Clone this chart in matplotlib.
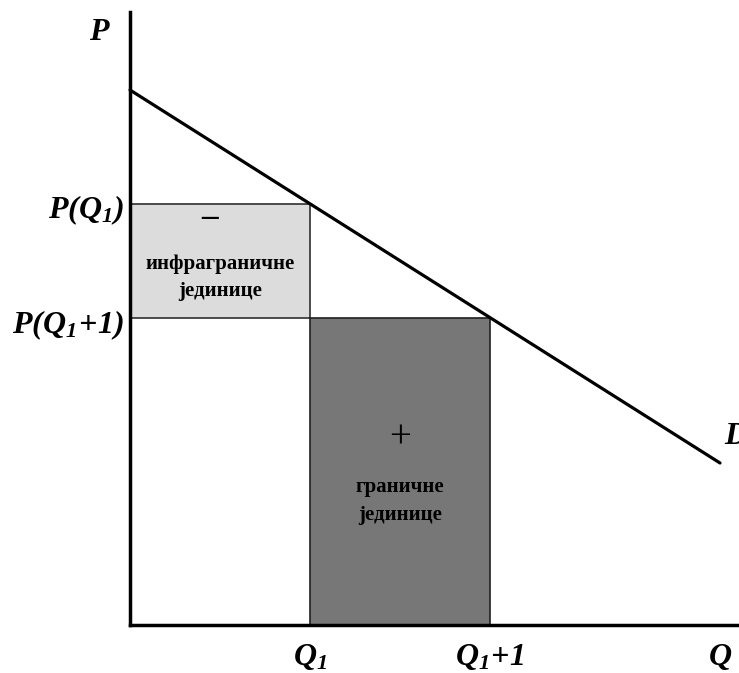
import numpy as np
import matplotlib.pyplot as plt
from matplotlib.patches import Rectangle

plt.rcParams['mathtext.fontset'] = 'custom'
for k in ['rm', 'it', 'bf']:
    plt.rcParams['mathtext.' + k] = 'Liberation Serif:bold:italic'

# demand curve (quantity, price)
demand_q = [0, 590]
demand_p = [535, 162]
q1 = 180
q2 = 360

slope = (demand_p[1] - demand_p[0]) / (demand_q[1] - demand_q[0])
p1 = demand_p[0] + slope * q1
p2 = demand_p[0] + slope * q2

fig = plt.figure(figsize=(7.39, 6.73), dpi=100)
ax = fig.add_axes([0, 0, 1, 1])
ax.set_xlim(-130, 609)
ax.set_ylim(-48, 625)
ax.axis('off')

# boxes
ax.add_patch(Rectangle((0, p2), q1, p1 - p2, facecolor='#dcdcdc',
                       edgecolor='#303030', lw=1.2, zorder=1))
ax.add_patch(Rectangle((q1, 0), q2 - q1, p2, facecolor='#777777',
                       edgecolor='#202020', lw=1.2, zorder=1))

# demand
ax.plot(demand_q, demand_p, color='black', lw=2.3, solid_capstyle='round', zorder=3)

# axes
ax.plot([0, 0], [0, 613], color='black', lw=2.5, zorder=4)
ax.plot([0, 620], [0, 0], color='black', lw=2.5, zorder=4)

lab = dict(fontsize=23, ha='center', va='center')
ax.text(-30, 594, '$P$', **lab)
ax.text(-6, p1 - 6, '$P(Q_1)$', fontsize=23, ha='right', va='center')
ax.text(-6, p2 - 8, '$P(Q_1\\!+\\!1)$', fontsize=23, ha='right', va='center')
ax.text(q1, -32, '$Q_1$', **lab)
ax.text(q2, -32, '$Q_1\\!+\\!1$', **lab)
ax.text(590, -32, '$Q$', **lab)
ax.text(594, 190, '$D$', fontsize=23, ha='left', va='center')

box = dict(fontsize=15, ha='center', va='center', family='Liberation Serif',
           fontweight='bold', linespacing=1.5)
ax.text(q1 / 2, (p1 + p2) / 2 - 17, 'инфраграничне\nјединице', **box)
ax.text(q1 / 2 - 10, p1 - 14, '–', fontsize=24, ha='center', va='center',
        family='Liberation Serif', fontweight='bold')
ax.text((q1 + q2) / 2, 187, '+', fontsize=28, ha='center', va='center',
        family='Liberation Serif')
ax.text((q1 + q2) / 2, 124, 'граничне\nјединице', **box)

fig.savefig('out.png', dpi=100)
